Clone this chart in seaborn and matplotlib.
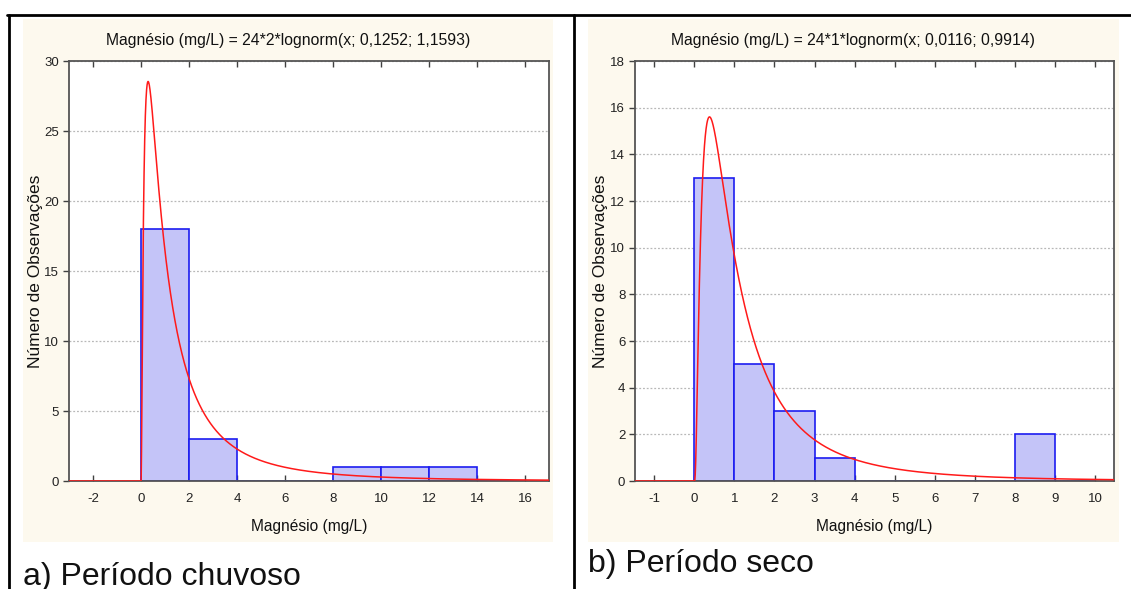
import numpy as np
import pandas as pd
import matplotlib
matplotlib.use("Agg")
import matplotlib.pyplot as plt
import seaborn as sns
from matplotlib.patches import Rectangle
from matplotlib.lines import Line2D

# ---------------- data ----------------
edges_a = [0, 2, 4, 6, 8, 10, 12, 14, 16]
counts_a = [18, 3, 0, 0, 1, 1, 1, 0]
edges_b = [0, 1, 2, 3, 4, 5, 6, 7, 8, 9, 10]
counts_b = [13, 5, 3, 1, 0, 0, 0, 0, 2, 0]

# fitted lognormal parameters (from the titles): n, bin width, mu, sigma
fit_a = (24, 2, 0.1252, 1.1593)
fit_b = (24, 1, 0.0116, 0.9914)

title_a = "Magnésio (mg/L) = 24*2*lognorm(x; 0,1252; 1,1593)"
title_b = "Magnésio (mg/L) = 24*1*lognorm(x; 0,0116; 0,9914)"
xlabel = "Magnésio (mg/L)"
ylabel = "Número de Observações"
xticks_a = [-2, 0, 2, 4, 6, 8, 10, 12, 14, 16]
yticks_a = [0, 5, 10, 15, 20, 25, 30]
xticks_b = [-1, 0, 1, 2, 3, 4, 5, 6, 7, 8, 9, 10]
yticks_b = [0, 2, 4, 6, 8, 10, 12, 14, 16, 18]
panel_a = "a) Período chuvoso"
panel_b = "b) Período seco"

# ---------------- style ----------------
sns.set_theme(style="white")
plt.rcParams["font.family"] = ["Liberation Sans", "DejaVu Sans"]

W, H = 1131, 589
fig = plt.figure(figsize=(W / 100, H / 100), dpi=100)
fig.patch.set_facecolor("white")

BEIGE = "#fdf9ee"
BAR_FACE = "#c4c4f8"
BAR_EDGE = "#1c1cf0"


def fx(px):
    return px / W


def fy(py):
    return 1 - py / H


# beige panels
for x0, x1 in [(23, 553), (588, 1119)]:
    fig.add_artist(Rectangle((fx(x0), fy(542)), fx(x1) - fx(x0), fy(19) - fy(542),
                             transform=fig.transFigure, facecolor=BEIGE,
                             edgecolor="none", zorder=-5))

# table borders
lw_border = 2.0
fig.add_artist(Line2D([fx(7), 1.0], [fy(15), fy(15)], transform=fig.transFigure,
                      color="black", lw=lw_border))
fig.add_artist(Line2D([fx(8.5), fx(8.5)], [fy(15), 0], transform=fig.transFigure,
                      color="black", lw=lw_border))
fig.add_artist(Line2D([fx(573.5), fx(573.5)], [fy(15), 0], transform=fig.transFigure,
                      color="black", lw=lw_border))


def lognorm_curve(x, n, w, mu, sigma):
    x = np.asarray(x, dtype=float)
    y = np.zeros_like(x)
    m = x > 0
    y[m] = n * w / (x[m] * sigma * np.sqrt(2 * np.pi)) * np.exp(-(np.log(x[m]) - mu) ** 2 / (2 * sigma ** 2))
    return y


def draw_panel(rect, edges, counts, fit, xlim, ylim, xticks, yticks, title,
               panel_center_px, ylabel_x_px):
    ax = fig.add_axes(rect)
    ax.set_facecolor("white")
    centers = [(a + b) / 2 for a, b in zip(edges[:-1], edges[1:])]
    df = pd.DataFrame({"x": centers, "n": counts})
    sns.histplot(data=df, x="x", weights="n", bins=list(edges), ax=ax, stat="count",
                 color=BAR_FACE, edgecolor=BAR_EDGE, linewidth=1.2, alpha=1.0)
    for p in ax.patches:
        p.set_facecolor(BAR_FACE)
        p.set_zorder(2)

    xs = np.linspace(xlim[0], xlim[1], 3000)
    cdf = pd.DataFrame({"x": xs, "y": lognorm_curve(xs, *fit)})
    sns.lineplot(data=cdf, x="x", y="y", ax=ax, color="#ff1a1a", lw=1.1, zorder=3)

    ax.set_xlim(*xlim)
    ax.set_ylim(*ylim)
    ax.set_xticks(xticks)
    ax.set_yticks(yticks)
    ax.set_xticklabels([str(t) for t in xticks], fontsize=9.5)
    ax.set_yticklabels([str(t) for t in yticks], fontsize=9.5)
    ax.set_xlabel("")
    ax.set_ylabel("")
    ax.tick_params(axis="x", direction="in", length=4, width=1, color="#404040",
                   top=True, bottom=True, pad=9, labelcolor="#222222")
    ax.tick_params(axis="y", direction="out", length=4, width=1, color="#404040",
                   left=True, right=False, pad=3, labelcolor="#222222")
    ax.set_axisbelow(True)
    ax.yaxis.grid(True, color="#b8b8b8", linestyle=(0, (1.5, 1.5)), lw=0.9)
    ax.xaxis.grid(False)
    for s in ["left", "right", "top", "bottom"]:
        ax.spines[s].set_visible(True)
        ax.spines[s].set_color("#555555")
        ax.spines[s].set_linewidth(1.3)

    fig.text(fx(panel_center_px), fy(41), title, ha="center", va="center",
             fontsize=11.3, color="#111111")
    ax_l, ax_r = rect[0], rect[0] + rect[2]
    fig.text((ax_l + ax_r) / 2, fy(527), xlabel, ha="center", va="center",
             fontsize=11.2, color="#111111")
    fig.text(fx(ylabel_x_px), fy(271), ylabel, ha="center", va="center",
             rotation=90, fontsize=12.5, color="#111111")
    return ax


def rect_px(l, t, r, b):
    return [fx(l), fy(b), fx(r) - fx(l), fy(t) - fy(b)]


draw_panel(rect_px(69, 61, 549, 481), edges_a, counts_a, fit_a, (-3, 17), (0, 30),
           xticks_a, yticks_a, title_a, 288, 36)
draw_panel(rect_px(635, 61, 1114, 481), edges_b, counts_b, fit_b, (-1.48, 10.47), (0, 18),
           xticks_b, yticks_b, title_b, 853, 601)

fig.text(fx(23), fy(585), panel_a, ha="left", va="baseline", fontsize=23, color="#111111")
fig.text(fx(588), fy(572), panel_b, ha="left", va="baseline", fontsize=23, color="#111111")

fig.savefig("out.png", dpi=100, facecolor="white")
